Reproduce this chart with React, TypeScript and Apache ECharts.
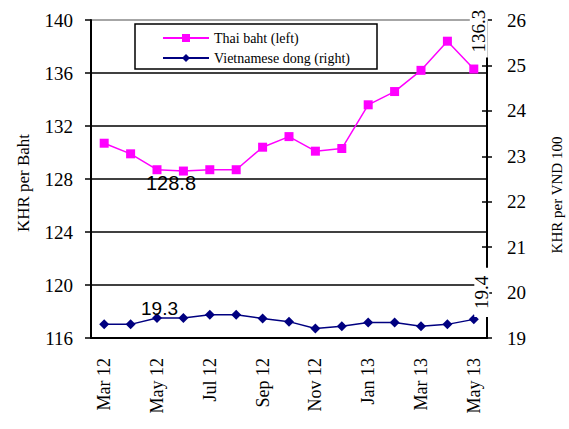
import React, { useEffect, useRef } from "react";
import * as echarts from "echarts";

const months = ["Mar 12", "Apr 12", "May 12", "Jun 12", "Jul 12", "Aug 12", "Sep 12", "Oct 12", "Nov 12", "Dec 12", "Jan 13", "Feb 13", "Mar 13", "Apr 13", "May 13"];
const thaiBaht = [130.7, 129.9, 128.7, 128.6, 128.7, 128.7, 130.4, 131.2, 130.1, 130.3, 133.6, 134.6, 136.2, 138.4, 136.3];
const vndDong = [19.3, 19.3, 19.44, 19.44, 19.51, 19.51, 19.43, 19.36, 19.21, 19.26, 19.34, 19.34, 19.26, 19.3, 19.41];
const leftTicks = { min: 116, max: 140, interval: 4 };
const rightTicks = { min: 19, max: 26, interval: 1 };
const seriesNames = ["Thai baht (left)", "Vietnamese dong (right)"];
const axisTitles = ["KHR per Baht", "KHR per VND 100"];
const noteTexts = ["128.8", "19.3", "136.3", "19.4"];

const SERIF = "'Liberation Serif', 'Times New Roman', serif";
const SANS = "'Liberation Sans', Arial, sans-serif";

export default function App() {
  const ref = useRef<HTMLDivElement>(null);
  useEffect(() => {
    if (!ref.current) return;
    const chart = echarts.init(ref.current, null, { renderer: "svg" });
    const labelStyle = { fontFamily: SERIF, fontSize: 19, color: "#000" };
    chart.setOption({
      animation: false,
      backgroundColor: "#fff",
      grid: { left: 91, right: 82, top: 20, bottom: 91 },
      legend: {
        data: seriesNames,
        orient: "vertical",
        left: 135,
        top: 24,
        padding: [7, 27, 4, 27],
        itemWidth: 46,
        itemHeight: 10,
        itemGap: 6,
        borderColor: "#000",
        borderWidth: 1.5,
        backgroundColor: "#fff",
        textStyle: { fontFamily: SERIF, fontSize: 14, lineHeight: 14, color: "#000" },
      },
      xAxis: {
        type: "category",
        data: months,
        boundaryGap: true,
        axisLine: { lineStyle: { color: "#000", width: 2 } },
        axisTick: { interval: 1, length: 6, lineStyle: { color: "#000", width: 1.5 } },
        axisLabel: { interval: 1, rotate: 90, margin: 20, fontFamily: SERIF, fontSize: 18, color: "#000" },
      },
      yAxis: [
        {
          type: "value",
          position: "left",
          ...leftTicks,
          axisLine: { show: true, lineStyle: { color: "#000", width: 2 } },
          axisTick: { show: true, length: 6, lineStyle: { color: "#000", width: 1.5 } },
          axisLabel: { margin: 18, ...labelStyle },
          splitLine: {
            show: true,
            lineStyle: { color: ["#000", "#000", "#000", "#000", "#000", "#000", "#888"], width: 1.5 },
          },
        },
        {
          type: "value",
          position: "right",
          ...rightTicks,
          axisLine: { show: true, lineStyle: { color: "#000", width: 2 } },
          axisTick: { show: true, length: 5, lineStyle: { color: "#000", width: 1.5 } },
          axisLabel: { margin: 20, ...labelStyle },
          splitLine: { show: false },
        },
        {
          type: "value",
          position: "right",
          ...rightTicks,
          axisLine: { show: false },
          axisTick: { show: true, inside: true, length: 5, lineStyle: { color: "#000", width: 1.5 } },
          axisLabel: { show: false },
          splitLine: { show: false },
        },
      ],
      series: [
        {
          name: seriesNames[0],
          type: "line",
          data: thaiBaht,
          yAxisIndex: 0,
          symbol: "rect",
          symbolSize: 9,
          color: "#FF00FF",
          lineStyle: { color: "#FF00FF", width: 1.5 },
          itemStyle: { color: "#FF00FF" },
        },
        {
          name: seriesNames[1],
          type: "line",
          data: vndDong,
          yAxisIndex: 1,
          symbol: "diamond",
          symbolSize: 10,
          color: "#000080",
          lineStyle: { color: "#000080", width: 1.5 },
          itemStyle: { color: "#000080" },
        },
      ],
    });

    const pL = (i: number, v: number) => chart.convertToPixel({ xAxisIndex: 0, yAxisIndex: 0 }, [i, v]) as number[];
    const pR = (i: number, v: number) => chart.convertToPixel({ xAxisIndex: 0, yAxisIndex: 1 }, [i, v]) as number[];
    const last = months.length - 1;
    const a = pL(2, thaiBaht[2]);
    const b = pR(2, vndDong[2]);
    const c = pL(last, thaiBaht[last]);
    const d = pR(last, vndDong[last]);
    const top = pL(0, leftTicks.max);
    const bottom = pL(0, leftTicks.min);
    const midY = (top[1] + bottom[1]) / 2;

    chart.setOption({
      graphic: [
        {
          type: "text", z: 100, x: a[0] + 14, y: a[1] + 13,
          style: { text: noteTexts[0], fontFamily: SANS, fontSize: 20, fill: "#000", align: "center", verticalAlign: "middle" },
        },
        {
          type: "text", z: 100, x: b[0] + 2.5, y: b[1] - 10,
          style: { text: noteTexts[1], fontFamily: SANS, fontSize: 19, fill: "#000", align: "center", verticalAlign: "middle" },
        },
        {
          type: "text", z: 100, x: c[0] + 5, y: c[1] - 38, rotation: Math.PI / 2,
          style: {
            text: noteTexts[2], fontFamily: SERIF, fontSize: 19, fill: "#000", align: "center", verticalAlign: "middle",
            backgroundColor: "#fff", padding: [1, 5], lineHeight: 16,
          },
        },
        {
          type: "text", z: 100, x: d[0] + 8, y: d[1] - 27, rotation: Math.PI / 2,
          style: {
            text: noteTexts[3], fontFamily: SERIF, fontSize: 19, fill: "#000", align: "center", verticalAlign: "middle",
            backgroundColor: "#fff", padding: [0, 8], lineHeight: 15,
          },
        },
        {
          type: "text", z: 100, x: 23, y: midY + 4, rotation: Math.PI / 2,
          style: { text: axisTitles[0], fontFamily: SERIF, fontSize: 17, fill: "#000", align: "center", verticalAlign: "middle" },
        },
        {
          type: "text", z: 100, x: 557, y: midY + 16, rotation: Math.PI / 2,
          style: { text: axisTitles[1], fontFamily: SERIF, fontSize: 15, fill: "#000", align: "center", verticalAlign: "middle" },
        },
      ],
    });

    return () => chart.dispose();
  }, []);
  return <div ref={ref} style={{ position: "fixed", left: 0, top: 0, width: 569, height: 429 }} />;
}
